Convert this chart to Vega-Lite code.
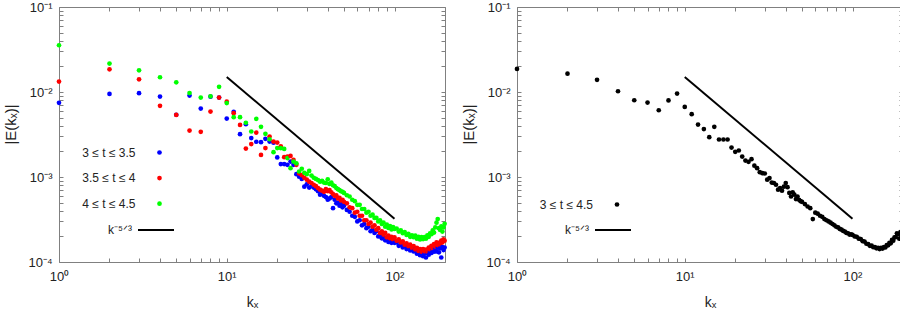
{
"$schema": "https://vega.github.io/schema/vega-lite/v6.json",
"padding": {"left": 3, "top": 1, "right": 0, "bottom": 0},
"background": "white",
"config": {
  "font": "Liberation Sans",
  "view": {"stroke": null},
  "axis": {"domainColor": "#808080", "tickColor": "#808080", "labelColor": "#222222", "titleColor": "#222222",
           "labelFont": "Liberation Sans", "labelFontSize": 13, "titleFont": "Liberation Sans", "titleFontSize": 14,
           "titleFontWeight": "normal", "grid": false, "tickSize": -4, "domainWidth": 1, "tickWidth": 1,
           "labelFlush": false, "labelOverlap": false},
  "axisLeft": {"titleX": -44, "titleY": 117, "titleBaseline": "alphabetic", "titleAlign": "center", "titleAngle": 270, "titleFontSize": 15},
  "axisBottom": {"titleY": 44, "titleBaseline": "alphabetic"},
  "legend": {"labelFont": "Liberation Sans", "labelFontSize": 12, "labelColor": "#222222", "padding": 0}
},
"datasets": {
  "spec": [
{"k":1,"b":0.00745,"r":0.01325,"g":0.0355,"a":0.0187},
{"k":2,"b":0.0095,"r":0.0185,"g":0.0216,"a":0.01645},
{"k":3,"b":0.00968,"r":0.0141,"g":0.018,"a":0.0139},
{"k":4,"b":0.00883,"r":0.00687,"g":0.0149,"a":0.0102},
{"k":5,"b":0.0054,"r":0.00538,"g":0.013,"a":0.008},
{"k":6,"b":0.00908,"r":0.00352,"g":0.0097,"a":0.0075},
{"k":7,"b":0.00638,"r":0.0034,"g":0.0086,"a":0.0061},
{"k":8,"b":0.0088,"r":0.00589,"g":0.0089,"a":0.00795},
{"k":9,"b":0.0086,"r":0.0086,"g":0.0115,"a":0.00957},
{"k":10,"b":0.00487,"r":0.0077,"g":0.0074,"a":0.00668},
{"k":11,"b":0.00585,"r":0.00563,"g":0.00506,"a":0.00548},
{"k":12,"b":0.00319,"r":0.0041,"g":0.00506,"a":0.00414},
{"k":13,"b":0.00418,"r":0.00216,"g":0.00435,"a":0.00366},
{"k":14,"b":0.00287,"r":0.00244,"g":0.00343,"a":0.00294},
{"k":15,"b":0.0026,"r":0.00333,"g":0.00483,"a":0.00389},
{"k":16,"b":0.00257,"r":0.00182,"g":0.00389,"a":0.00276},
{"k":17,"b":0.00281,"r":0.00219,"g":0.00322,"a":0.00276},
{"k":18,"b":0.00261,"r":0.00299,"g":0.00278,"a":0.00276},
{"k":19,"b":0.00253,"r":0.00261,"g":0.00196,"a":0.00222},
{"k":20,"b":0.0017,"r":0.00254,"g":0.00219,"a":0.00198},
{"k":21,"b":0.00142,"r":0.0023,"g":0.00219,"a":0.00205},
{"k":22,"b":0.00142,"r":0.00171,"g":0.00214,"a":0.00174},
{"k":23,"b":0.00139,"r":0.00174,"g":0.00167,"a":0.00156},
{"k":24,"b":0.00152,"r":0.00177,"g":0.00127,"a":0.00151},
{"k":25,"b":0.00139,"r":0.00159,"g":0.00152,"a":0.00162},
{"k":26,"b":0.00108,"r":0.00139,"g":0.00145,"a":0.00136},
{"k":27,"b":0.00101,"r":0.0011,"g":0.00116,"a":0.00127},
{"k":28,"b":0.00095,"r":0.00105,"g":0.00125,"a":0.00114},
{"k":29,"b":0.00077,"r":0.00098,"g":0.00112,"a":0.00111},
{"k":30,"b":0.00082,"r":0.00093,"g":0.00108,"a":0.0011},
{"k":31,"b":0.00075,"r":0.00088,"g":0.00118,"a":0.00093},
{"k":32,"b":0.00078,"r":0.00085,"g":0.00104,"a":0.00097},
{"k":33,"b":0.00075,"r":0.00081,"g":0.00098,"a":0.00086},
{"k":34,"b":0.00072,"r":0.00078,"g":0.00095,"a":0.00085},
{"k":35,"b":0.00068,"r":0.00074,"g":0.00092,"a":0.00081},
{"k":36,"b":0.00062,"r":0.00071,"g":0.00088,"a":0.00071},
{"k":37,"b":0.00066,"r":0.00069,"g":0.0009,"a":0.00074},
{"k":38,"b":0.0006,"r":0.00067,"g":0.00086,"a":0.00069},
{"k":39,"b":0.00058,"r":0.00072,"g":0.00085,"a":0.00077},
{"k":40,"b":0.00054,"r":0.00068,"g":0.00094,"a":0.00085},
{"k":41,"b":0.00056,"r":0.0007,"g":0.00083,"a":0.00076},
{"k":42,"b":0.00058,"r":0.00066,"g":0.00086,"a":0.00065},
{"k":43,"b":0.00043,"r":0.00063,"g":0.0008,"a":0.00059},
{"k":44,"b":0.00054,"r":0.0006,"g":0.00078,"a":0.00066},
{"k":45,"b":0.00049,"r":0.00061,"g":0.00074,"a":0.00062},
{"k":46,"b":0.0005,"r":0.00056,"g":0.00072,"a":0.00055},
{"k":47,"b":0.00046,"r":0.00057,"g":0.0007,"a":0.00059},
{"k":48,"b":0.00048,"r":0.00053,"g":0.00068,"a":0.00054},
{"k":49,"b":0.00044,"r":0.00054,"g":0.00067,"a":0.00052},
{"k":50,"b":0.00046,"r":0.00051,"g":0.00065,"a":0.00051},
{"k":52,"b":0.00041,"r":0.00049,"g":0.00061,"a":0.00048},
{"k":54,"b":0.00039,"r":0.00044,"g":0.00059,"a":0.00045},
{"k":56,"b":0.00035,"r":0.00043,"g":0.00054,"a":0.00043},
{"k":58,"b":0.00034,"r":0.00038,"g":0.00052,"a":0.00032},
{"k":60,"b":0.0003,"r":0.00039,"g":0.00047,"a":0.00038},
{"k":62,"b":0.00031,"r":0.00035,"g":0.00047,"a":0.00037},
{"k":64,"b":0.00027,"r":0.00035,"g":0.00042,"a":0.00035},
{"k":66,"b":0.00028,"r":0.00031,"g":0.00042,"a":0.00034},
{"k":68,"b":0.00025,"r":0.00031,"g":0.00038,"a":0.00032},
{"k":70,"b":0.00026,"r":0.00028,"g":0.00039,"a":0.00031},
{"k":72,"b":0.00023,"r":0.00029,"g":0.00035,"a":0.0003},
{"k":74,"b":0.00024,"r":0.00026,"g":0.00036,"a":0.00029},
{"k":76,"b":0.00022,"r":0.00027,"g":0.00033,"a":0.00028},
{"k":78,"b":0.00023,"r":0.00024,"g":0.00033,"a":0.00027},
{"k":80,"b":0.0002,"r":0.00025,"g":0.0003,"a":0.00026},
{"k":82,"b":0.00021,"r":0.00022,"g":0.00031,"a":0.000255},
{"k":84,"b":0.00019,"r":0.00023,"g":0.00028,"a":0.000245},
{"k":86,"b":0.0002,"r":0.00021,"g":0.00029,"a":0.00024},
{"k":88,"b":0.00018,"r":0.00022,"g":0.00026,"a":0.000232},
{"k":90,"b":0.000185,"r":0.000195,"g":0.000275,"a":0.000228},
{"k":92,"b":0.000172,"r":0.000205,"g":0.000252,"a":0.00022},
{"k":94,"b":0.00018,"r":0.00019,"g":0.000265,"a":0.000218},
{"k":96,"b":0.000168,"r":0.000198,"g":0.000242,"a":0.00021},
{"k":98,"b":0.000176,"r":0.000185,"g":0.000258,"a":0.000212},
{"k":100,"b":0.000168,"r":0.000195,"g":0.000245,"a":0.000208},
{"k":103,"b":0.00017,"r":0.000178,"g":0.000248,"a":0.0002},
{"k":106,"b":0.000155,"r":0.000185,"g":0.000228,"a":0.000198},
{"k":109,"b":0.00016,"r":0.00017,"g":0.000235,"a":0.000188},
{"k":112,"b":0.000148,"r":0.000175,"g":0.000218,"a":0.000186},
{"k":115,"b":0.000154,"r":0.00016,"g":0.000225,"a":0.000176},
{"k":118,"b":0.000142,"r":0.000166,"g":0.000208,"a":0.000174},
{"k":121,"b":0.00015,"r":0.000154,"g":0.000215,"a":0.000164},
{"k":124,"b":0.000137,"r":0.00016,"g":0.000198,"a":0.000162},
{"k":127,"b":0.000144,"r":0.000147,"g":0.000206,"a":0.000155},
{"k":130,"b":0.000133,"r":0.000154,"g":0.000196,"a":0.000156},
{"k":133,"b":0.00014,"r":0.000141,"g":0.000204,"a":0.000149},
{"k":136,"b":0.000125,"r":0.000147,"g":0.000188,"a":0.00015},
{"k":139,"b":0.000132,"r":0.000135,"g":0.000198,"a":0.000145},
{"k":142,"b":0.00012,"r":0.000142,"g":0.000184,"a":0.000147},
{"k":145,"b":0.000128,"r":0.000132,"g":0.000196,"a":0.000142},
{"k":148,"b":0.000117,"r":0.000142,"g":0.000186,"a":0.000147},
{"k":151,"b":0.000125,"r":0.000134,"g":0.000197,"a":0.000144},
{"k":154,"b":0.000113,"r":0.00014,"g":0.000188,"a":0.00015},
{"k":157,"b":0.000128,"r":0.000132,"g":0.000206,"a":0.000148},
{"k":160,"b":0.000122,"r":0.000148,"g":0.000198,"a":0.000158},
{"k":163,"b":0.000134,"r":0.00014,"g":0.000218,"a":0.000157},
{"k":166,"b":0.000128,"r":0.000155,"g":0.000212,"a":0.000168},
{"k":169,"b":0.00014,"r":0.000145,"g":0.000235,"a":0.000166},
{"k":172,"b":0.000132,"r":0.000162,"g":0.000222,"a":0.000182},
{"k":175,"b":0.000145,"r":0.000152,"g":0.000255,"a":0.000178},
{"k":178,"b":0.000133,"r":0.00017,"g":0.00029,"a":0.000195},
{"k":181,"b":0.000147,"r":0.000158,"g":0.00032,"a":0.000196},
{"k":184,"b":0.00013,"r":0.000168,"g":0.00025,"a":0.000218},
{"k":187,"b":0.000145,"r":0.000162,"g":0.000238,"a":0.000212},
{"k":190,"b":0.000113,"r":0.000178,"g":0.000262,"a":0.000188},
{"k":193,"b":0.00015,"r":0.00017,"g":0.000228,"a":0.000225},
{"k":196,"b":0.000138,"r":0.000185,"g":0.000255,"a":0.000198},
{"k":199,"b":0.000148,"r":0.000178,"g":0.000282,"a":0.000182}
  ],
  "ref": [{"k": 10, "E": 0.015}, {"k": 100, "E": 0.000323}]
},
"bounds": "flush",
"spacing": 72,
"resolve": {"scale": {"color": "independent"}},
"hconcat": [
  {
    "width": 386, "height": 255,
    "resolve": {"scale": {"color": "independent"}, "axis": {"x": "independent", "y": "independent"}},
    "layer": [
      {
        "data": {"name": "spec"},
        "transform": [{"fold": ["b", "r", "g"], "as": ["s", "E"]}],
        "mark": {"type": "circle", "size": 22, "opacity": 1},
        "encoding": {
          "x": {"field": "k", "type": "quantitative",
                "scale": {"type": "log", "domain": [1, 200], "nice": false},
                "axis": {"orient": "bottom", "title": "kₓ", "labelPadding": 12,
                         "values": [1,2,3,4,5,6,7,8,9,10,20,30,40,50,60,70,80,90,100,200],
                         "labelExpr": "datum.value == 1 ? '10⁰' : datum.value == 10 ? '10¹' : datum.value == 100 ? '10²' : ''"}},
          "y": {"field": "E", "type": "quantitative",
                "scale": {"type": "log", "domain": [0.0001, 0.1], "nice": false},
                "axis": {"orient": "left", "title": "|E(kₓ)|", "labelPadding": 11,
                         "values": [0.0001,0.0002,0.0003,0.0004,0.0005,0.0006,0.0007,0.0008,0.0009,0.001,0.002,0.003,0.004,0.005,0.006,0.007,0.008,0.009,0.01,0.02,0.03,0.04,0.05,0.06,0.07,0.08,0.09,0.1],
                         "labelExpr": "datum.value == 0.1 ? '10⁻¹' : datum.value == 0.01 ? '10⁻²' : datum.value == 0.001 ? '10⁻³' : datum.value == 0.0001 ? '10⁻⁴' : ''"}},
          "color": {"field": "s", "type": "nominal",
                    "scale": {"domain": ["b", "r", "g"], "range": ["#0000ff", "#ff0000", "#00ff00"]},
                    "legend": {"title": null, "orient": "none", "legendX": 94.5, "legendY": 139.5,
                               "labelAlign": "right", "labelOffset": -30, "symbolSize": 22,
                               "rowPadding": 13.6,
                               "labelExpr": "datum.label == 'b' ? '3 ≤ t ≤ 3.5' : datum.label == 'r' ? '3.5 ≤ t ≤ 4' : '4 ≤ t ≤ 4.5'"}}
        }
      },
      {
        "data": {"name": "ref"},
        "mark": {"type": "line", "strokeWidth": 2},
        "encoding": {
          "x": {"field": "k", "type": "quantitative",
                "scale": {"type": "log", "domain": [1, 200], "nice": false},
                "axis": {"orient": "top", "title": null, "labels": false,
                         "values": [1,2,3,4,5,6,7,8,9,10,20,30,40,50,60,70,80,90,100,200]}},
          "y": {"field": "E", "type": "quantitative",
                "scale": {"type": "log", "domain": [0.0001, 0.1], "nice": false},
                "axis": {"orient": "right", "title": null, "labels": false,
                         "values": [0.0001,0.0002,0.0003,0.0004,0.0005,0.0006,0.0007,0.0008,0.0009,0.001,0.002,0.003,0.004,0.005,0.006,0.007,0.008,0.009,0.01,0.02,0.03,0.04,0.05,0.06,0.07,0.08,0.09,0.1]}},
          "color": {"datum": "k⁻⁵ᐟ³", "type": "nominal", "scale": {"range": ["#000000"]},
                    "legend": {"title": null, "orient": "none", "legendX": 78, "legendY": 204,
                               "labelAlign": "right", "labelOffset": -43, "symbolType": "stroke", "symbolSize": 1296,
                               "symbolStrokeWidth": 2}}
        }
      }
    ]
  },
  {
    "width": 386, "height": 255,
    "resolve": {"scale": {"color": "independent"}, "axis": {"x": "independent", "y": "independent"}},
    "layer": [
      {
        "data": {"name": "spec"},
        "mark": {"type": "circle", "size": 22, "opacity": 1},
        "encoding": {
          "x": {"field": "k", "type": "quantitative",
                "scale": {"type": "log", "domain": [1, 200], "nice": false},
                "axis": {"orient": "bottom", "title": "kₓ", "labelPadding": 12,
                         "values": [1,2,3,4,5,6,7,8,9,10,20,30,40,50,60,70,80,90,100,200],
                         "labelExpr": "datum.value == 1 ? '10⁰' : datum.value == 10 ? '10¹' : datum.value == 100 ? '10²' : ''"}},
          "y": {"field": "a", "type": "quantitative",
                "scale": {"type": "log", "domain": [0.0001, 0.1], "nice": false},
                "axis": {"orient": "left", "title": "|E(kₓ)|", "labelPadding": 11,
                         "values": [0.0001,0.0002,0.0003,0.0004,0.0005,0.0006,0.0007,0.0008,0.0009,0.001,0.002,0.003,0.004,0.005,0.006,0.007,0.008,0.009,0.01,0.02,0.03,0.04,0.05,0.06,0.07,0.08,0.09,0.1],
                         "labelExpr": "datum.value == 0.1 ? '10⁻¹' : datum.value == 0.01 ? '10⁻²' : datum.value == 0.001 ? '10⁻³' : datum.value == 0.0001 ? '10⁻⁴' : ''"}},
          "color": {"datum": "3 ≤ t ≤ 4.5", "type": "nominal", "scale": {"range": ["#000000"]},
                    "legend": {"title": null, "orient": "none", "legendX": 94, "legendY": 191.5,
                               "labelAlign": "right", "labelOffset": -30, "symbolSize": 22}}
        }
      },
      {
        "data": {"name": "ref"},
        "mark": {"type": "line", "strokeWidth": 2},
        "encoding": {
          "x": {"field": "k", "type": "quantitative",
                "scale": {"type": "log", "domain": [1, 200], "nice": false},
                "axis": {"orient": "top", "title": null, "labels": false,
                         "values": [1,2,3,4,5,6,7,8,9,10,20,30,40,50,60,70,80,90,100,200]}},
          "y": {"field": "E", "type": "quantitative",
                "scale": {"type": "log", "domain": [0.0001, 0.1], "nice": false},
                "axis": {"orient": "right", "title": null, "labels": false,
                         "values": [0.0001,0.0002,0.0003,0.0004,0.0005,0.0006,0.0007,0.0008,0.0009,0.001,0.002,0.003,0.004,0.005,0.006,0.007,0.008,0.009,0.01,0.02,0.03,0.04,0.05,0.06,0.07,0.08,0.09,0.1]}},
          "color": {"datum": "k⁻⁵ᐟ³", "type": "nominal", "scale": {"range": ["#000000"]},
                    "legend": {"title": null, "orient": "none", "legendX": 77, "legendY": 204,
                               "labelAlign": "right", "labelOffset": -43, "symbolType": "stroke", "symbolSize": 1296,
                               "symbolStrokeWidth": 2}}
        }
      }
    ]
  }
]
}
